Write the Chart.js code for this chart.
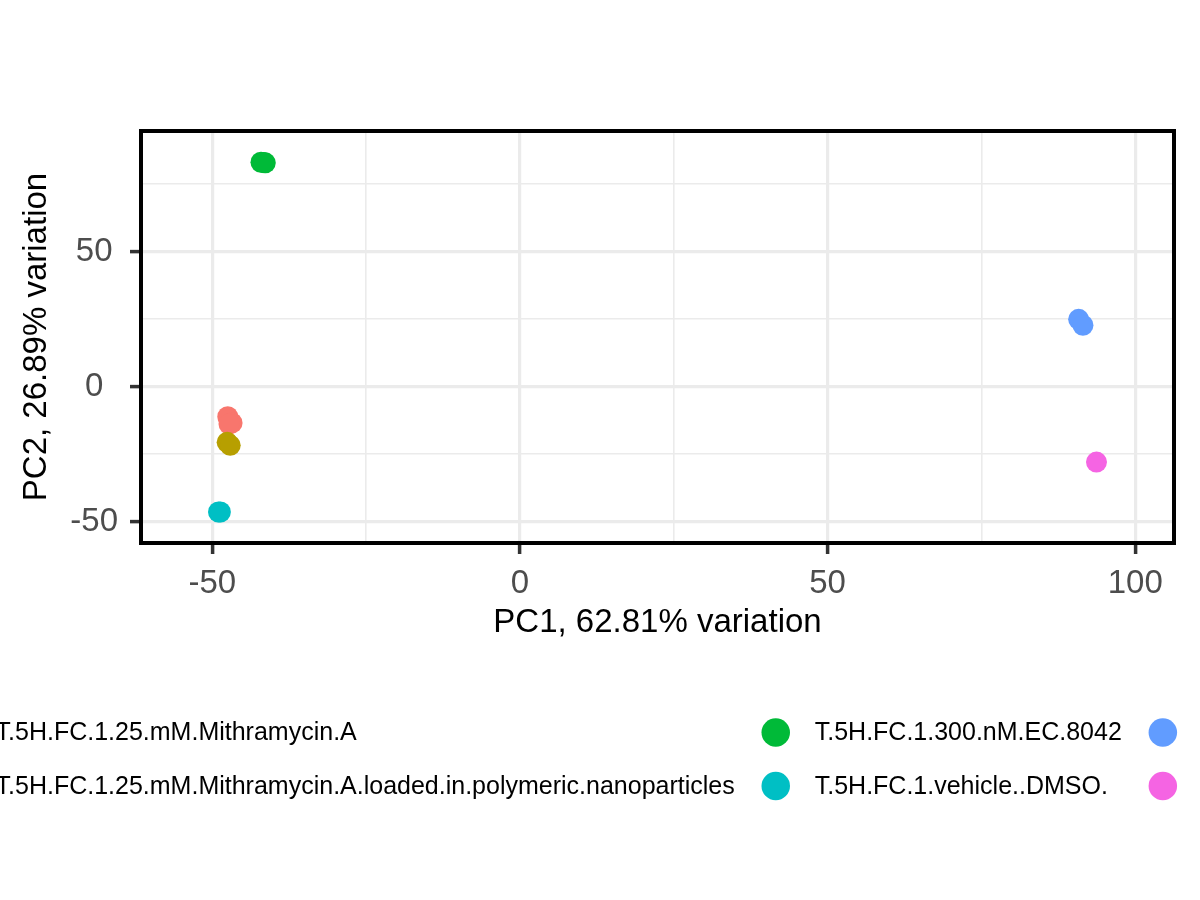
<!DOCTYPE html>
<html>
<head>
<meta charset="utf-8">
<title>PCA biplot</title>
<script src="https://cdn.jsdelivr.net/npm/chart.js@4.4.1/dist/chart.umd.min.js"></script>
<style>
  html, body { margin: 0; padding: 0; background: #ffffff; overflow: hidden; }
  #wrap { width: 1200px; height: 900px; }
</style>
</head>
<body>
<div id="wrap"><canvas id="pca" width="1200" height="900"></canvas></div>
<script>
// groups (legend order, column by column)
const groupNames = [
  'T.5H.FC.1.25.mM.Mithramycin.A',
  'T.5H.FC.1.25.mM.Mithramycin.A.loaded.in.polymeric.nanoparticles',
  'T.5H.FC.1.300.nM.EC.8042',
  'T.5H.FC.1.vehicle..DMSO.',
  'T.5H.FC.1.NTC',
  'T.5H.FC.1.NP'
]
const groupColours = ['#F8766D', '#B79F00', '#00BA38', '#00BFC4', '#619CFF', '#F564E3']

// PC scores
const mithA_pc1 = [-47.5, -46.8, -47.3]
const mithA_pc2 = [-11.2, -13.5, -13.9]
const mithANano_pc1 = [-47.6, -47.1]
const mithANano_pc2 = [-20.7, -21.8]
const ec8042_pc1 = [-42.1, -41.4, -41.7]
const ec8042_pc2 = [83.1, 82.9, 83.0]
const dmso_pc1 = [-49.0, -48.7]
const dmso_pc2 = [-46.5, -46.5]
const ntc_pc1 = [90.8, 91.5]
const ntc_pc2 = [24.9, 22.7]
const np_pc1 = [93.7]
const np_pc2 = [-28.0]

const pc1Values = [mithA_pc1, mithANano_pc1, ec8042_pc1, dmso_pc1, ntc_pc1, np_pc1]
const pc2Values = [mithA_pc2, mithANano_pc2, ec8042_pc2, dmso_pc2, ntc_pc2, np_pc2]

const xMajorTicks = [-50, 0, 50, 100]
const xMinorTicks = [-25, 25, 75]
const yMajorTicks = [-50, 0, 50]
const yMinorTicks = [-25, 25, 75]

const xTitle = 'PC1, 62.81% variation'
const yTitle = 'PC2, 26.89% variation'

const fontFamily = '"Liberation Sans", Arial, Helvetica, sans-serif'
Chart.defaults.font.family = fontFamily

function isMajor(axis, value) {
  return (axis === 'x' ? xMajorTicks : yMajorTicks).includes(value)
}

function gridFor(axis) {
  return {
    color: '#EBEBEB',
    lineWidth: ctx => isMajor(axis, ctx.tick.value) ? 3.2 : 1.6,
    drawTicks: true,
    tickLength: 11,
    tickWidth: ctx => isMajor(axis, ctx.tick.value) ? 3.5 : 0,
    tickColor: ctx => isMajor(axis, ctx.tick.value) ? '#333333' : 'rgba(0,0,0,0)'
  }
}

// black panel border like theme_bw
const panelBorder = {
  id: 'panelBorder',
  afterDatasetsDraw(chart) {
    const { ctx, chartArea: a } = chart
    ctx.save()
    ctx.strokeStyle = '#000000'
    ctx.lineWidth = 4
    ctx.strokeRect(a.left, a.top, a.right - a.left, a.bottom - a.top)
    ctx.restore()
  }
}

// ggplot style legend at the bottom: 2 rows, filled column by column
const bottomLegend = {
  id: 'bottomLegend',
  afterDraw(chart) {
    const { ctx, chartArea: a } = chart
    const sets = chart.data.datasets
    const nrow = 2
    const ncol = Math.ceil(sets.length / nrow)
    const keyR = 14.25, keyGap = 39, colGap = 41, rowH = 53.5
    ctx.save()
    ctx.font = '25px ' + fontFamily
    ctx.textBaseline = 'middle'
    ctx.textAlign = 'left'
    const colW = []
    for (let c = 0; c < ncol; c++) {
      let w = 0
      for (let r = 0; r < nrow; r++) {
        const d = sets[c * nrow + r]
        if (d) w = Math.max(w, ctx.measureText(d.label).width)
      }
      colW.push(w)
    }
    const total = colW.reduce((s, w) => s + keyGap + w, 0) + colGap * (ncol - 1) + keyR
    let keyX = (a.left + a.right) / 2 - total / 2 + keyR
    const top = a.bottom + 189.5
    for (let c = 0; c < ncol; c++) {
      for (let r = 0; r < nrow; r++) {
        const d = sets[c * nrow + r]
        if (!d) continue
        const y = top + r * rowH
        ctx.fillStyle = d.backgroundColor
        ctx.beginPath()
        ctx.arc(keyX, y, keyR, 0, Math.PI * 2)
        ctx.fill()
        ctx.fillStyle = '#000000'
        ctx.fillText(d.label, keyX + keyGap, y + 1)
      }
      keyX += keyGap + colW[c] + colGap
    }
    ctx.restore()
  }
}

const datasets = groupNames.map((name, i) => ({
  label: name,
  data: pc1Values[i].map((x, j) => ({ x: x, y: pc2Values[i][j] })),
  backgroundColor: groupColours[i],
  borderColor: groupColours[i],
  borderWidth: 0,
  pointRadius: 10.5,
  pointHoverRadius: 10.5,
  order: groupNames.length - i
}))

new Chart(document.getElementById('pca'), {
  type: 'scatter',
  data: { datasets: datasets },
  options: {
    responsive: false,
    animation: false,
    devicePixelRatio: 1,
    events: [],
    layout: { padding: { top: 131, right: 26, bottom: 257, left: 0 } },
    plugins: {
      legend: { display: false },
      tooltip: { enabled: false }
    },
    scales: {
      x: {
        type: 'linear',
        min: -61.6,
        max: 106.3,
        afterBuildTicks: s => { s.ticks = xMajorTicks.concat(xMinorTicks).sort((a, b) => a - b).map(v => ({ value: v })) },
        afterFit: s => { s.height = 100 },
        grid: gridFor('x'),
        border: { display: false },
        ticks: {
          autoSkip: false,
          maxRotation: 0,
          padding: 10,
          color: '#4D4D4D',
          font: { size: 33 },
          callback: v => isMajor('x', v) ? String(v) : ''
        },
        title: {
          display: true,
          text: xTitle,
          color: '#000000',
          font: { size: 33 },
          padding: { top: 0, bottom: 0 }
        }
      },
      y: {
        type: 'linear',
        min: -58.0,
        max: 94.7,
        afterBuildTicks: s => { s.ticks = yMajorTicks.concat(yMinorTicks).sort((a, b) => a - b).map(v => ({ value: v })) },
        afterFit: s => { s.width = 141 },
        grid: gridFor('y'),
        border: { display: false },
        ticks: {
          autoSkip: false,
          crossAlign: 'center',
          padding: 12,
          color: '#4D4D4D',
          font: { size: 33 },
          callback: v => isMajor('y', v) ? String(v) : ''
        },
        title: {
          display: true,
          text: yTitle,
          color: '#000000',
          font: { size: 33 },
          padding: { top: 17.5, bottom: 0 }
        }
      }
    }
  },
  plugins: [panelBorder, bottomLegend]
})
</script>
</body>
</html>
